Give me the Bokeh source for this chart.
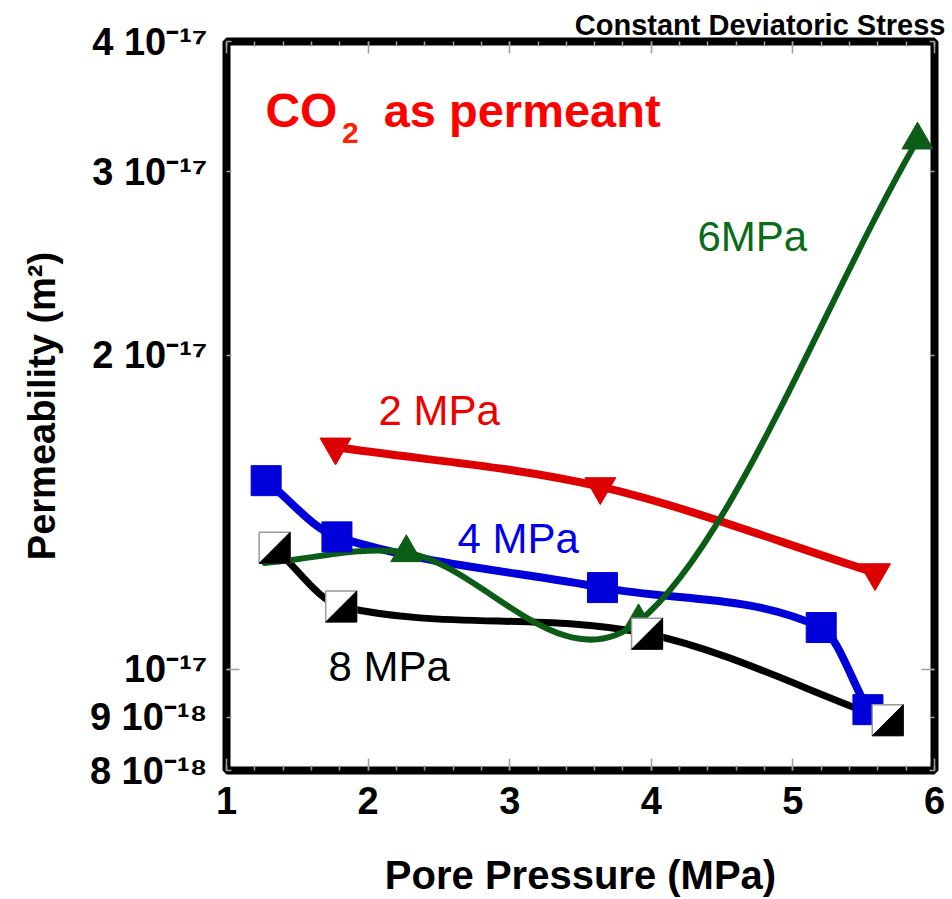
import numpy as np
from bokeh.plotting import figure
from bokeh.models import (Range1d, FixedTicker, SingleIntervalTicker, LinearAxis,
                          LogAxis, Label)
from bokeh.embed import file_html
from bokeh.resources import INLINE

# ---------------- data ----------------
red_x = [1.77, 3.64, 5.58]                       # 2 MPa
red_y = [1.634e-17, 1.497e-17, 1.238e-17]
blue_x = [1.28, 1.78, 3.655, 5.20, 5.53]          # 4 MPa
blue_y = [1.517e-17, 1.340e-17, 1.198e-17, 1.097e-17, 9.15e-18]
green_x = [1.27, 2.27, 3.91, 5.88]                # 6 MPa
green_y = [1.265e-17, 1.294e-17, 1.111e-17, 3.218e-17]
black_x = [1.34, 1.81, 3.97, 5.67]                # 8 MPa
black_y = [1.308e-17, 1.149e-17, 1.082e-17, 8.94e-18]

y_ticks = [8e-18, 9e-18, 1e-17, 2e-17, 3e-17, 4e-17]
y_tick_labels = ["8 10⁻¹⁸", "9 10⁻¹⁸", "10⁻¹⁷", "2 10⁻¹⁷", "3 10⁻¹⁷", "4 10⁻¹⁷"]
x_ticks = [1, 2, 3, 4, 5, 6]

FONT = "Liberation Sans"
RED, BLUE, GREEN, BLACK = "#DD0000", "#0000D8", "#0B5C16", "#000000"

# layout of the frame (pixels)
FL, FR, FT, FB = 226, 934, 41, 771
X0, X1, Y0, Y1 = 1, 6, 8e-18, 4e-17


def smooth_bezier(xs, ys):
    """Smooth (Catmull-Rom type) Hermite curve through the points in (x, log10 y),
    returned as cubic Bezier segments."""
    x = np.asarray(xs, float)
    ly = np.log10(np.asarray(ys, float))
    n = len(x)
    m = np.zeros(n)
    m[0] = (ly[1] - ly[0]) / (x[1] - x[0])
    m[-1] = (ly[-1] - ly[-2]) / (x[-1] - x[-2])
    for i in range(1, n - 1):
        m[i] = (ly[i + 1] - ly[i - 1]) / (x[i + 1] - x[i - 1])
    h = np.diff(x)
    return dict(x0=x[:-1], y0=10 ** ly[:-1], x1=x[1:], y1=10 ** ly[1:],
                cx0=x[:-1] + h / 3, cy0=10 ** (ly[:-1] + m[:-1] * h / 3),
                cx1=x[1:] - h / 3, cy1=10 ** (ly[1:] - m[1:] * h / 3))


p = figure(width=952, height=899, x_range=Range1d(X0, X1), y_range=Range1d(Y0, Y1),
           y_axis_type="log", output_backend="svg", toolbar_location=None,
           min_border_left=FL, min_border_right=952 - FR, min_border_top=FT,
           min_border_bottom=899 - FB)
p.outline_line_color = "black"
p.outline_line_width = 8
p.grid.visible = False
p.background_fill_color = "white"
p.border_fill_color = "white"

# title (cut by the top edge in the reference; shrunk here so it shows whole)
p.title.text = "Constant Deviatoric Stress"
p.title.align = "right"
p.title.vertical_align = "bottom"
p.title.text_font = FONT
p.title.text_font_style = "bold"
p.title.text_font_size = "29px"
p.title.text_color = "black"
p.title.standoff = 2
p.title.offset = -11

TICK_COLOR = "#A0A0A0"


def style_axis(ax):
    ax.axis_line_color = None
    ax.major_tick_out = 0
    ax.minor_tick_out = 0
    ax.major_tick_line_color = TICK_COLOR
    ax.minor_tick_line_color = TICK_COLOR
    ax.major_tick_line_width = 1.5
    ax.minor_tick_line_width = 1.5
    ax.major_label_text_font = FONT
    ax.major_label_text_font_style = "bold"
    ax.major_label_text_color = "black"
    ax.axis_label_text_font = FONT
    ax.axis_label_text_font_style = "bold"
    ax.axis_label_text_color = "black"


# x axes
xb = p.xaxis[0]
xb.ticker = SingleIntervalTicker(interval=1, num_minor_ticks=5)
style_axis(xb)
xb.major_tick_in = 12
xb.minor_tick_in = 5
xb.major_label_text_font_size = "38px"
xb.major_label_standoff = 16
xb.axis_label = "Pore Pressure (MPa)"
xb.axis_label_text_font_size = "40px"
xb.axis_label_standoff = 36

xt = LinearAxis(ticker=SingleIntervalTicker(interval=1, num_minor_ticks=5))
style_axis(xt)
xt.major_tick_in = 12
xt.minor_tick_in = 5
xt.major_label_overrides = {t: "" for t in x_ticks}
xt.major_label_standoff = 0
p.add_layout(xt, "above")

# y axes
yl = p.yaxis[0]
yl.ticker = FixedTicker(ticks=y_ticks, minor_ticks=[1e-17])
style_axis(yl)
yl.major_tick_in = 5
yl.minor_tick_in = 13
yl.major_label_overrides = {t: s for t, s in zip(y_ticks, y_tick_labels)}
yl.major_label_text_font_size = "38px"
yl.major_label_standoff = 19
yl.axis_label = "Permeability (m²)"
yl.axis_label_text_font_size = "38px"
yl.axis_label_standoff = 24

yr = LogAxis(ticker=FixedTicker(ticks=y_ticks, minor_ticks=[1e-17]))
style_axis(yr)
yr.major_tick_in = 5
yr.minor_tick_in = 13
yr.major_label_overrides = {t: "" for t in y_ticks}
yr.major_label_standoff = 0
p.add_layout(yr, "right")

# ---------------- curves ----------------
for xs, ys, col, lw in [(red_x, red_y, RED, 8), (blue_x, blue_y, BLUE, 8),
                        (black_x, black_y, BLACK, 7), (green_x, green_y, GREEN, 6)]:
    p.bezier(line_color=col, line_width=lw, line_cap="round", **smooth_bezier(xs, ys))

# ---------------- markers ----------------
p.scatter(red_x, red_y, marker="inverted_triangle", size=31, fill_color=RED, line_color=RED)
# the first 6 MPa marker is hidden in the reference
p.scatter(green_x[1:], green_y[1:], marker="triangle", size=31, fill_color=GREEN,
          line_color=GREEN)
p.scatter(blue_x, blue_y, marker="square", size=30, fill_color=BLUE, line_color=BLUE)
p.scatter(black_x, black_y, marker="square", size=31, fill_color="white",
          line_color="#9A9A9A", line_width=1.5)
# lower-right black half of the 8 MPa markers
px_per_x = (FR - FL) / (X1 - X0)
px_per_dec = (FB - FT) / np.log10(Y1 / Y0)
half = 15.5
dx = half / px_per_x
f = 10 ** (half / px_per_dec)
p.patches(xs=[[x - dx, x + dx, x + dx] for x in black_x],
          ys=[[y / f, y / f, y * f] for y in black_y],
          fill_color="black", line_color="black", line_width=1)

# ---------------- texts ----------------
def lab(x, y, text, color, size, style="normal"):
    p.add_layout(Label(x=x, y=y, text=text, text_color=color, text_font=FONT,
                       text_font_size=size, text_font_style=style,
                       text_baseline="alphabetic", text_align="left"))

lab(1.275, 3.432e-17, "CO", "#FF0000", "48px", "bold")
lab(1.815, 3.266e-17, "2", "#FF2000", "30px", "bold")
lab(2.11, 3.432e-17, "as permeant", "#FF0000", "47px", "bold")
lab(2.073, 1.773e-17, "2 MPa", "#EE0000", "42px")
lab(2.631, 1.334e-17, "4 MPa", "#0000EE", "42px")
lab(4.326, 2.600e-17, "6MPa", "#0B6B18", "42px")
lab(1.720, 1.006e-17, "8 MPa", "black", "42px")

open("out.html", "w").write(file_html(p, INLINE))
